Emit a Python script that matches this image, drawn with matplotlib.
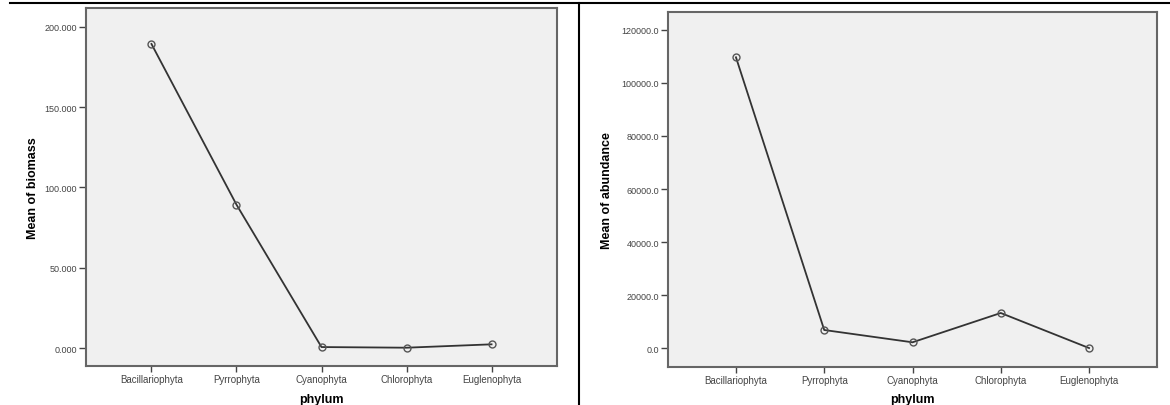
import numpy as np
import matplotlib
matplotlib.use("Agg")
import matplotlib.pyplot as plt
from matplotlib.lines import Line2D

plt.rcParams['font.family'] = ['Liberation Sans', 'DejaVu Sans']

# data
phyla = ['Bacillariophyta', 'Pyrrophyta', 'Cyanophyta', 'Chlorophyta', 'Euglenophyta']
biomass = [189.4, 89.3, 0.6, 0.2, 2.3]
abundance = [109600, 6890, 2260, 13300, 100]

biomass_ticks = [0, 50, 100, 150, 200]
biomass_ticklabels = ['0.000', '50.000', '100.000', '150.000', '200.000']
abund_ticks = [0, 20000, 40000, 60000, 80000, 100000, 120000]
abund_ticklabels = ['0.0', '20000.0', '40000.0', '60000.0', '80000.0', '100000.0', '120000.0']

W, H = 1170, 406
fig = plt.figure(figsize=(W / 100, H / 100), dpi=100)
fig.patch.set_facecolor('white')


def panel(rect, values, ticks, ticklabels, ylim, ylabel, ylpad):
    ax = fig.add_axes(rect)
    ax.set_facecolor('#f0f0f0')
    x = np.arange(len(phyla))
    ax.plot(x, values, color='#333333', lw=1.3, marker='o', ms=5,
            mfc='none', mec='#555555', mew=1.0)
    ax.set_xlim(-0.77, 4.77)
    ax.set_ylim(*ylim)
    ax.set_xticks(x)
    ax.set_xticklabels(phyla, fontsize=7, color='#444444')
    ax.set_yticks(ticks)
    ax.set_yticklabels(ticklabels, fontsize=6.5, color='#444444')
    ax.tick_params(axis='y', direction='out', length=5, width=1, color='#444444', pad=1.5)
    ax.tick_params(axis='x', direction='out', length=4, width=1, color='#444444', pad=2)
    for s in ax.spines.values():
        s.set_color('#666666')
        s.set_linewidth(1.5)
    ax.set_xlabel('phylum', fontsize=9, fontweight='bold', labelpad=6)
    ax.set_ylabel(ylabel, fontsize=9, fontweight='bold', labelpad=ylpad)
    return ax


panel([86 / W, (H - 367) / H, 471 / W, 358 / H], biomass,
      biomass_ticks, biomass_ticklabels, (-11.2, 211.8), 'Mean of biomass', 4)
panel([668 / W, (H - 367.7) / H, 489 / W, 355 / H], abundance,
      abund_ticks, abund_ticklabels, (-6930, 126780), 'Mean of abundance', 6)

# document table lines around the figures
fig.add_artist(Line2D([10 / W, 1], [1 - 3.5 / H, 1 - 3.5 / H], color='black', lw=1.5))
fig.add_artist(Line2D([579 / W, 579 / W], [0, 1 - 3.5 / H], color='black', lw=1.5))

fig.savefig('out.png', dpi=100)
